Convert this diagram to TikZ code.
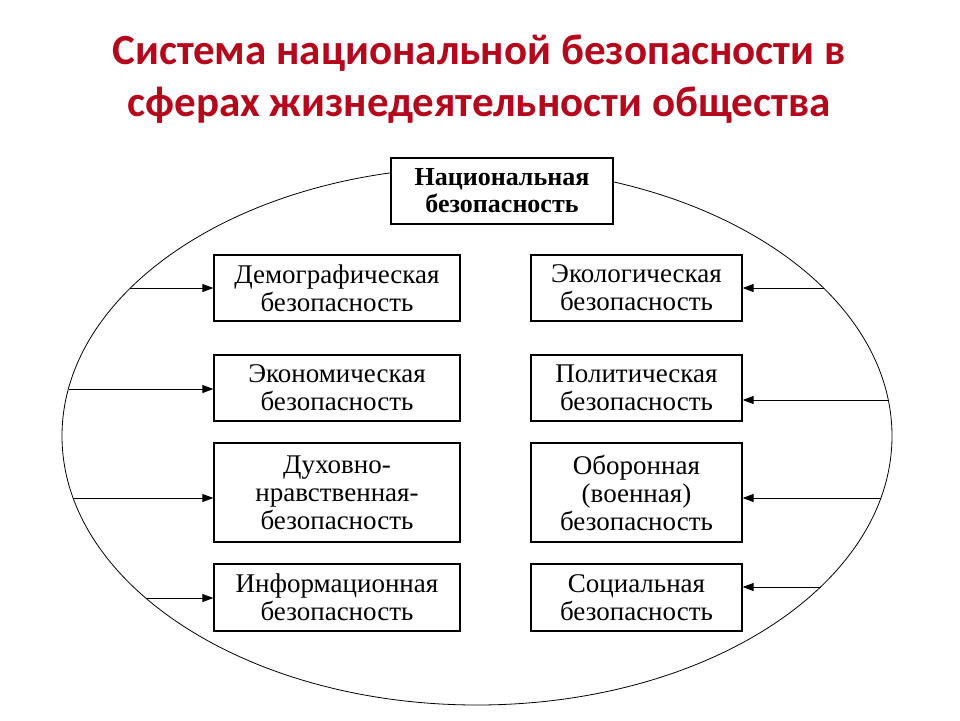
\documentclass[tikz,border=0pt]{standalone}
\usepackage{fontspec}
\setmainfont{Liberation Serif}
\newfontfamily\titlefont{Carlito}
\usetikzlibrary{arrows.meta}
\definecolor{titlered}{RGB}{180,8,28}
\begin{document}
\begin{tikzpicture}[x=1pt,y=-1pt,
  secbox/.style={draw=black,line width=1.3pt,fill=white,inner sep=0pt,align=center,
    font=\fontsize{27}{28}\selectfont},
  arr/.style={line width=0.9pt,-{Triangle[length=11pt,width=8pt]}},
  ttl/.style={text=titlered,font=\titlefont\bfseries\fontsize{43}{52}\selectfont,align=center}]
\fill[white] (0,0) rectangle (960,720);
\useasboundingbox (0,0) rectangle (960,720);
\node[ttl] (title) at (479,79) {Система национальной безопасности в\\сферах жизнедеятельности общества};
\draw[line width=0.8pt] (477,436) ellipse [x radius=415, y radius=269];
\node[secbox,minimum width=222pt,minimum height=66pt,font=\bfseries\fontsize{26}{27}\selectfont] (nb) at (502,191) {Национальная\\безопасность};
% left column
\node[secbox,minimum width=246pt,minimum height=66pt] (dem) at (337,288) {Демографическая\\безопасность};
\node[secbox,minimum width=246pt,minimum height=66pt] (eco) at (337,388) {Экономическая\\безопасность};
\node[secbox,minimum width=246pt,minimum height=99pt] (dukh) at (337,492.5) {Духовно-\\нравственная-\\безопасность};
\node[secbox,minimum width=246pt,minimum height=67pt] (inf) at (337,597.5) {Информационная\\безопасность};
% right column
\node[secbox,minimum width=211pt,minimum height=66pt] (ecol) at (636.5,288) {Экологическая\\безопасность};
\node[secbox,minimum width=211pt,minimum height=66pt] (pol) at (636.5,388) {Политическая\\безопасность};
\node[secbox,minimum width=211pt,minimum height=99pt] (obor) at (636.5,492.5) {Оборонная\\(военная)\\безопасность};
\node[secbox,minimum width=211pt,minimum height=67pt] (soc) at (636.5,597.5) {Социальная\\безопасность};
% arrow start points on the ellipse
\coordinate (s1) at (130,288);
\coordinate (s2) at (69,389);
\coordinate (s3) at (73,498);
\coordinate (s4) at (146,598);
\coordinate (t1) at (824,288);
\coordinate (t2) at (888,400);
\coordinate (t3) at (881,498);
\coordinate (t4) at (821,587);
\draw[arr] (s1) -- (s1 -| dem.west);
\draw[arr] (s2) -- (s2 -| eco.west);
\draw[arr] (s3) -- (s3 -| dukh.west);
\draw[arr] (s4) -- (s4 -| inf.west);
\draw[arr] (t1) -- (t1 -| ecol.east);
\draw[arr] (t2) -- (t2 -| pol.east);
\draw[arr] (t3) -- (t3 -| obor.east);
\draw[arr] (t4) -- (t4 -| soc.east);
\end{tikzpicture}
\end{document}
